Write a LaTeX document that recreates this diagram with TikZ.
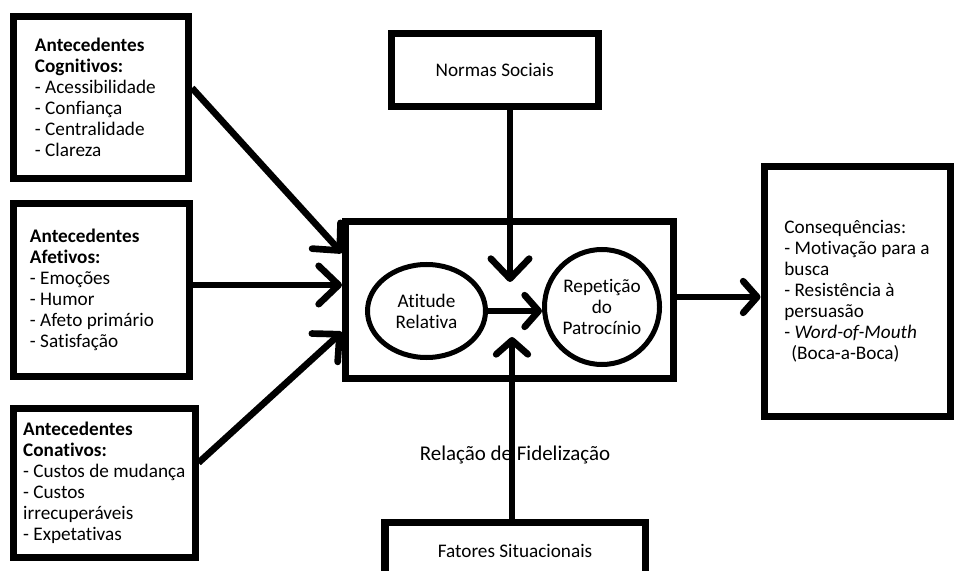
\documentclass[tikz,border=0pt]{standalone}
\usepackage{fontspec}
\setmainfont{Carlito}[Ligatures=NoCommon]
\usetikzlibrary{arrows.meta,positioning,shapes.geometric}
\newcommand\boxfont{\fontsize{16.4pt}{17.9pt}\selectfont}

\begin{document}
\begin{tikzpicture}[x=0.03cm, y=-0.03cm,
  box/.style={draw, line width=0.21cm, align=flush left, font=\boxfont, inner sep=0pt},
  ring/.style={draw, line width=0.15cm, align=center, font=\boxfont, inner sep=0pt},
  arr/.style={line width=0.2cm, -{Straight Barb[length=0.6cm, width=1.15cm, round]}},
  arrs/.style={line width=0.2cm, -{Straight Barb[length=0.42cm, width=0.95cm, round]}}]
\useasboundingbox (0,0) rectangle (957,571);
% antecedentes
\node[box, inner xsep=0.645cm, text width=3.96cm, minimum height=4.86cm] (cog) at (101,97.5)
  {\textbf{Antecedentes}\\\textbf{Cognitivos:}\\- Acessibilidade\\- Confiança\\- Centralidade\\- Clareza};
\node[box, inner xsep=0.495cm, text width=4.275cm, minimum height=5.19cm] (afe) at (101.25,290)
  {\textbf{Antecedentes}\\\textbf{Afetivos:}\\- Emoções\\- Humor\\- Afeto primário\\- Satisfação};
\node[box, minimum width=5.445cm, minimum height=4.455cm] (con) at (104.25,482.75)
  {\textbf{Antecedentes}\\\textbf{Conativos:}\\- Custos de mudança\\- Custos\\irrecuperáveis\\- Expetativas};
% relacao central
\node[box, minimum width=9.84cm, minimum height=4.71cm] (fid) at (509.5,300) {};
\node[ring, ellipse, minimum width=3.54cm, minimum height=2.79cm] (att) at (426.5,311) {Atitude\\Relativa};
\node[ring, circle, minimum size=3.45cm] (rep) at (602,307) {Repetição\\do\\Patrocínio};
\node[box, minimum width=6.195cm, minimum height=2.19cm] (nor) at (494.75,70) {Normas Sociais};
\node[box, minimum width=7.8cm, minimum height=1.74cm] (fat) at (515,551) {Fatores Situacionais};
\node[font=\fontsize{17.9pt}{20pt}\selectfont] (rel) at (515,455) {Relação de Fidelização};
% consequencias
\node[box, minimum width=5.58cm, minimum height=7.5cm] (cons) at (857,291.5)
  {Consequências:\\- Motivação para a\\busca\\- Resistência à\\persuasão\\- \textit{Word-of-Mouth}\\\hspace*{0.21cm}(Boca-a-Boca)};
% ligacoes
\coordinate (nortip) at (510,282);
\coordinate (fattip) at (512,337);
\draw[arr] ([shift={(0,-9.5)}]cog.east) -- ([shift={(0,-47)}]fid.west);
\draw[arr] ([shift={(0,-5)}]afe.east) -- ([shift={(0,-15)}]fid.west);
\draw[arr] ([shift={(0,-20)}]con.east) -- ([shift={(0,32)}]fid.west);
\draw[arr] (nor.south -| nortip) -- (nortip);
\draw[arrs] (fat.north -| fattip) -- (fattip);
\draw[arrs] (att.east) -- (att.east -| rep.west);
\draw[arrs] ([shift={(0,-3)}]fid.east) coordinate (out) -- (out -| cons.west);
\end{tikzpicture}
\end{document}
